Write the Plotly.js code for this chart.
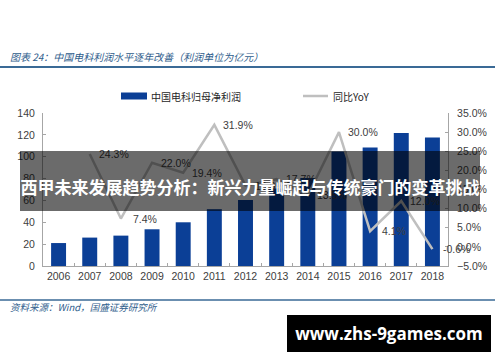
<!DOCTYPE html>
<html>
<head>
<meta charset="utf-8">
<script src="https://cdn.plot.ly/plotly-3.0.1.min.js"></script>
<style>
  html, body { margin: 0; padding: 0; background: #fff; }
  #wrap { position: relative; width: 500px; height: 362px; overflow: hidden; }
  #chart { position: absolute; left: 0; top: 0; width: 500px; height: 362px; }
  #banner { position: absolute; left: 20px; top: 151px; width: 460px; height: 60px;
    background: rgba(0,0,0,0.58); }
  #banner span { position: absolute; left: 0; width: 460px; top: 24px; text-align: center;
    color: #fff; font-family: "Noto Sans CJK SC", sans-serif; font-weight: bold;
    font-size: 17px; line-height: 24px; white-space: nowrap; }
  #wm { position: absolute; left: 287px; top: 315px; width: 204px; height: 37px; background: #000; }
  #wm span { position: absolute; left: 0; width: 204px; top: 9px; text-align: center; color: #fff;
    font-family: "Open Sans", "Noto Sans", sans-serif; font-weight: bold; font-size: 17px;
    line-height: 20px; white-space: nowrap; }
</style>
</head>
<body>
<div id="wrap">
  <div id="chart"></div>
  <div id="banner"><span>西甲未来发展趋势分析：新兴力量崛起与传统豪门的变革挑战</span></div>
  <div id="wm"><span>www.zhs-9games.com</span></div>
</div>
<script>
var years = ["2006","2007","2008","2009","2010","2011","2012","2013","2014","2015","2016","2017","2018"];
var profit = [21, 26, 27.8, 33.6, 40, 52, 60.3, 71, 80.5, 104.7, 108.4, 121.6, 117.6];
var yoy = [null, 24.3, 7.4, 22.0, 19.4, 31.9, 16.0, 17.7, 13.5, 30.0, 4.1, 12.0, -0.6];
var seriesNames = ["中国电科归母净利润", "同比YoY"];
var titleText = "图表 24：中国电科利润水平逐年改善（利润单位为亿元）";
var sourceText = "资料来源：Wind，国盛证券研究所";

var L = 43, R = 448, T = 113, B = 266;
function px(x) { return (x - L) / (R - L); }
function py(y) { return (B - y) / (B - T); }

var tickFont = { family: "Liberation Sans, Arial, sans-serif", size: 10.5, color: "#404040" };
var blue = "#0b3f96";
var gray = "#bfbfbf";
var axisCol = "#a6a6a6";

var traces = [
  { type: "bar", x: years, y: profit, name: seriesNames[0], marker: { color: blue },
    showlegend: false, hoverinfo: "skip" },
  { type: "scatter", mode: "lines", x: years, y: yoy, yaxis: "y2", name: seriesNames[1],
    line: { color: gray, width: 2.5 }, connectgaps: false, showlegend: false, hoverinfo: "skip" }
];

var annotations = [];
for (var i = 0; i < years.length; i++) {
  if (yoy[i] === null) continue;
  annotations.push({ x: i, y: yoy[i], xref: "x", yref: "y2", text: yoy[i].toFixed(1) + "%",
    showarrow: false, xshift: 24, font: { family: "Liberation Sans, Arial, sans-serif", size: 10.5, color: "#404040" } });
}
annotations.push({ xref: "paper", yref: "paper", x: px(8), y: py(57), xanchor: "left", yanchor: "middle",
  text: "<i>" + titleText + "</i>", showarrow: false,
  font: { family: "Noto Sans CJK SC, sans-serif", size: 10, color: "#2f5d8c" } });
annotations.push({ xref: "paper", yref: "paper", x: px(8), y: py(307), xanchor: "left", yanchor: "middle",
  text: "<i>" + sourceText + "</i>", showarrow: false,
  font: { family: "Noto Sans CJK SC, sans-serif", size: 9.5, color: "#2f5d8c" } });
annotations.push({ xref: "paper", yref: "paper", x: px(149), y: py(96), xanchor: "left", yanchor: "middle",
  text: seriesNames[0], showarrow: false, font: { family: "Noto Sans CJK SC, sans-serif", size: 10, color: "#262626" } });
annotations.push({ xref: "paper", yref: "paper", x: px(331), y: py(96), xanchor: "left", yanchor: "middle",
  text: seriesNames[1], showarrow: false, font: { family: "Noto Sans CJK SC, sans-serif", size: 10, color: "#262626" } });

var shapes = [
  { type: "line", xref: "paper", yref: "paper", x0: px(0), x1: px(495), y0: py(67), y1: py(67),
    line: { color: "#3a6a96", width: 2 } },
  { type: "line", xref: "paper", yref: "paper", x0: px(0), x1: px(495), y0: py(300), y1: py(300),
    line: { color: "#3a6a96", width: 1.5 } },
  { type: "rect", xref: "paper", yref: "paper", x0: px(121), x1: px(147), y0: py(99.5), y1: py(92.5),
    fillcolor: blue, line: { width: 0 } },
  { type: "line", xref: "paper", yref: "paper", x0: px(303), x1: px(328), y0: py(96), y1: py(96),
    line: { color: gray, width: 2.5 } }
];

var layout = {
  width: 500, height: 362,
  margin: { l: L, r: 500 - R, t: T, b: 362 - B, pad: 0 },
  paper_bgcolor: "#fff", plot_bgcolor: "#fff",
  bargap: 0.52,
  showlegend: false,
  xaxis: { type: "category", range: [-0.5, years.length - 0.5], autorange: false,
    showline: true, linecolor: axisCol, linewidth: 1, ticks: "inside",
    tickson: "boundaries", ticklen: 3, tickcolor: axisCol, showgrid: false, zeroline: false,
    tickfont: tickFont, tickangle: 0 },
  yaxis: { range: [0, 140], autorange: false, dtick: 20, showline: true, linecolor: axisCol, linewidth: 1, ticks: "inside",
    ticklen: 3, tickcolor: axisCol, showgrid: false, zeroline: false, tickfont: tickFont,
    ticklabelstandoff: 5 },
  yaxis2: { range: [-5, 35], autorange: false, dtick: 5, overlaying: "y", side: "right", showline: true, linecolor: axisCol,
    linewidth: 1, ticks: "inside", ticklen: 3, tickcolor: axisCol, showgrid: false, zeroline: false,
    tickformat: ".1f", ticksuffix: "%", tickfont: tickFont, ticklabelstandoff: 6 },
  annotations: annotations,
  shapes: shapes
};

Plotly.newPlot("chart", traces, layout, { staticPlot: true, displayModeBar: false });
</script>
</body>
</html>
